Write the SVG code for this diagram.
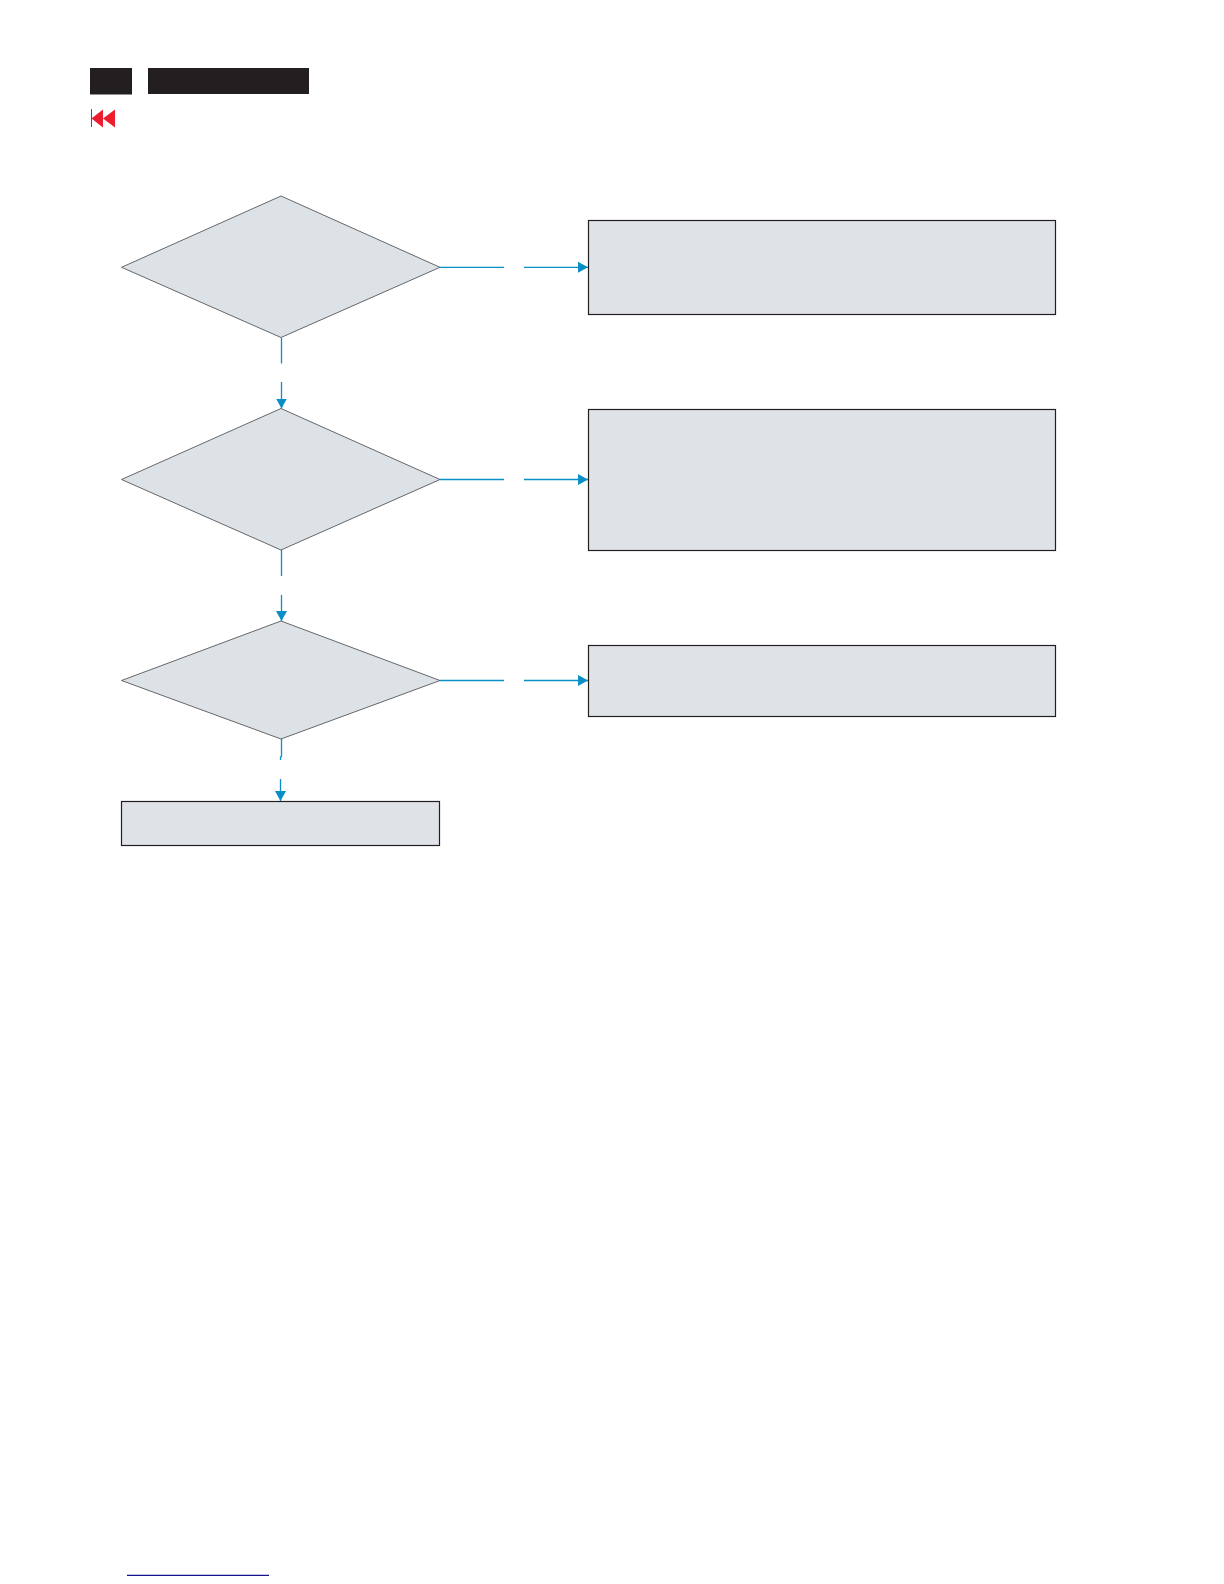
<svg xmlns="http://www.w3.org/2000/svg" width="1224" height="1584" viewBox="0 0 1224 1584">
<style>
.d{fill:#dde2e6;stroke:#55575a;stroke-width:.9}
.r{fill:#dfe3e7;stroke:#231f20;stroke-width:1.2}
.c{fill:none;stroke:#0a8ec6;stroke-width:1.3}
.h{fill:#231f20}
</style>
<defs><marker id="a" markerUnits="userSpaceOnUse" markerWidth="12" markerHeight="12" refX="10" refY="6" orient="auto"><path d="M0 .5L10 6L0 11.500Z" fill="#0a8ec6"/></marker></defs>
<rect width="1224" height="1584" fill="#fff"/>
<g id="header"><rect class="h" x="90" y="68" width="42" height="26.500"/><rect class="h" x="148" y="68" width="161" height="26"/><path d="M91.500 118.500L103 109.500V127.500Z" fill="#ed1c2e"/><path d="M103 118.500L115 109.500V127.500Z" fill="#ed1c2e"/><rect x="91" y="109" width="1" height="18" fill="#b8234a"/></g>
<g id="connectors">
<path class="c" d="M281.500 338V363.500"/><path class="c" d="M281.500 382V408.500" marker-end="url(#a)"/>
<path class="c" d="M281.500 550V576"/><path class="c" d="M281.500 595V621" marker-end="url(#a)"/>
<path class="c" d="M281.500 739V756.500L280.500 757V760"/><path class="c" d="M280.500 779V801" marker-end="url(#a)"/>
<path class="c" d="M440 267.300H504"/><path class="c" d="M524 267.300H588" marker-end="url(#a)"/>
<path class="c" d="M440 479.500H504"/><path class="c" d="M524 479.500H588" marker-end="url(#a)"/>
<path class="c" d="M440 680.500H504"/><path class="c" d="M524 680.500H588" marker-end="url(#a)"/>
</g>
<g id="d1"><polygon class="d" points="121.500,267.300 281,196 440,267.300 281,337.500"/></g>
<g id="d2"><polygon class="d" points="121.500,479.500 281,408.500 440,479.500 281,550"/></g>
<g id="d3"><polygon class="d" points="121.500,680.500 281,621 440,680.500 281,739"/></g>
<g id="r1"><rect class="r" x="588.500" y="220.500" width="467" height="94"/></g>
<g id="r2"><rect class="r" x="588.500" y="409.500" width="467" height="141"/></g>
<g id="r3"><rect class="r" x="588.500" y="645.500" width="467" height="71"/></g>
<g id="r4"><rect class="r" x="121.500" y="801.500" width="318" height="44"/></g>
<path id="footer" d="M127 1575.300H269" stroke="#14148c" stroke-width="1.200"/>
</svg>
